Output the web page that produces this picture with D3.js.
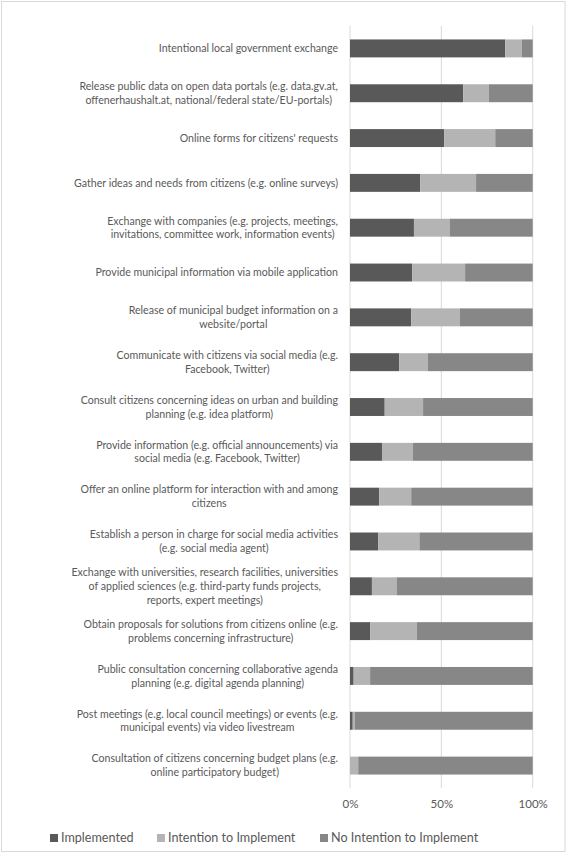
<!DOCTYPE html>
<html>
<head>
<meta charset="utf-8">
<script src="https://cdn.jsdelivr.net/npm/d3@7"></script>
<style>
  html, body { margin: 0; padding: 0; background: #fff; }
  svg { display: block; }
  text { font-family: Lato, "Open Sans", sans-serif; fill: #595959; }
</style>
</head>
<body>
<svg id="chart" width="568" height="863"></svg>
<script>
// ---- data ----
const categories = [
  ["Intentional local government exchange"],
  ["Release public data on open data portals (e.g. data.gv.at,", "offenerhaushalt.at, national/federal state/EU-portals)"],
  ["Online forms for citizens' requests"],
  ["Gather ideas and needs from citizens (e.g. online surveys)"],
  ["Exchange with companies (e.g. projects, meetings,", "invitations, committee work, information events)"],
  ["Provide municipal information via mobile application"],
  ["Release of municipal budget information on a", "website/portal"],
  ["Communicate with citizens via social media (e.g.", "Facebook, Twitter)"],
  ["Consult citizens concerning ideas on urban and building", "planning (e.g. idea platform)"],
  ["Provide information (e.g. official announcements) via", "social media (e.g. Facebook, Twitter)"],
  ["Offer an online platform for interaction with and among", "citizens"],
  ["Establish a person in charge for social media activities", "(e.g. social media agent)"],
  ["Exchange with universities, research facilities, universities", "of applied sciences (e.g. third-party funds projects,", "reports, expert meetings)"],
  ["Obtain proposals for solutions from citizens online (e.g.", "problems concerning infrastructure)"],
  ["Public consultation concerning collaborative agenda", "planning (e.g. digital agenda planning)"],
  ["Post meetings (e.g. local council meetings) or events (e.g.", "municipal events) via video livestream"],
  ["Consultation of citizens concerning budget plans (e.g.", "online participatory budget)"]
];
const implemented = [85, 62, 51.5, 38.5, 35, 34, 33.5, 27, 19, 17.5, 16, 15.5, 12, 11, 2, 1.5, 0];
const intention   = [9, 14, 28, 30.5, 19.5, 29, 26.5, 15.5, 21, 17, 17.5, 22.5, 13.5, 25.5, 9, 1, 4.5];
const noIntention = [6, 24, 20.5, 31, 45.5, 37, 40, 57.5, 60, 65.5, 66.5, 62, 74.5, 63.5, 89, 97.5, 95.5];
const seriesNames = ["Implemented", "Intention to Implement", "No Intention to Implement"];
const tickValues = [0, 0.5, 1];
const tickLabels = ["0%", "50%", "100%"];

// ---- layout ----
const svg = d3.select("#chart");
const colors = ["#595959", "#b4b4b4", "#878787"];
const x0 = 350, x1 = 532.7, yTop = 26, yBot = 788;

svg.append("rect").attr("x", 1.5).attr("y", 1.5).attr("width", 563.5).attr("height", 850)
  .attr("fill", "#fff").attr("stroke", "#d9d9d9").attr("stroke-width", 1);

const rows = categories.map((c, i) => ({
  idx: i, label: c,
  Implemented: implemented[i],
  "Intention to Implement": intention[i],
  "No Intention to Implement": noIntention[i]
}));

const x = d3.scaleLinear().domain([0, 1]).range([x0, x1]);
const y = d3.scaleBand().domain(d3.range(categories.length)).range([yTop, yBot])
  .paddingInner(0.6).paddingOuter(0.3);

// gridlines
svg.append("g").selectAll("line").data(tickValues).join("line")
  .attr("x1", d => x(d)).attr("x2", d => x(d))
  .attr("y1", yTop).attr("y2", yBot)
  .attr("stroke", "#d9d9d9").attr("stroke-width", 1);

// stacked bars (normalized)
const stack = d3.stack().keys(seriesNames).offset(d3.stackOffsetExpand);
const stacked = stack(rows);
svg.append("g").selectAll("g").data(stacked).join("g")
  .attr("fill", (d, i) => colors[i])
  .selectAll("rect").data(d => d).join("rect")
  .attr("x", d => x(d[0]))
  .attr("width", d => Math.max(0, x(d[1]) - x(d[0])))
  .attr("y", d => y(d.data.idx))
  .attr("height", y.bandwidth());

// category labels: block right-aligned, lines centred within block
const labelRight = 338, lineH = 13.8, fs = 10.6;
const lg = svg.append("g");
rows.forEach(r => {
  const g = lg.append("g");
  const n = r.label.length;
  const cy = y(r.idx) + y.bandwidth() / 2;
  const texts = r.label.map((t, j) => g.append("text")
    .attr("font-size", fs)
    .attr("text-anchor", "middle")
    .attr("y", cy + (j - (n - 1) / 2) * lineH)
    .attr("dy", "0.35em")
    .text(t));
  const w = d3.max(texts, t => t.node().getComputedTextLength());
  texts.forEach(t => t.attr("x", labelRight - w / 2));
});

// x axis tick labels
const xAxis = d3.axisBottom(x).tickValues(tickValues).tickFormat((d, i) => tickLabels[i]).tickSize(0).tickPadding(0);
const ax = svg.append("g").attr("transform", `translate(0, ${yBot})`).call(xAxis);
ax.select(".domain").remove();
ax.selectAll("text").attr("font-size", 11.5).attr("fill", "#595959").attr("y", 20).attr("dy", "0")
  .style("font-family", "Lato, 'Open Sans', sans-serif");

// legend
const legendX = [50, 157, 320];
const lgd = svg.append("g");
seriesNames.forEach((s, i) => {
  lgd.append("rect").attr("x", legendX[i]).attr("y", 834).attr("width", 8).attr("height", 8).attr("fill", colors[i]);
  lgd.append("text").attr("x", legendX[i] + 11).attr("y", 838).attr("dy", "0.35em")
    .attr("font-size", 12.6).text(s);
});
</script>
</body>
</html>
